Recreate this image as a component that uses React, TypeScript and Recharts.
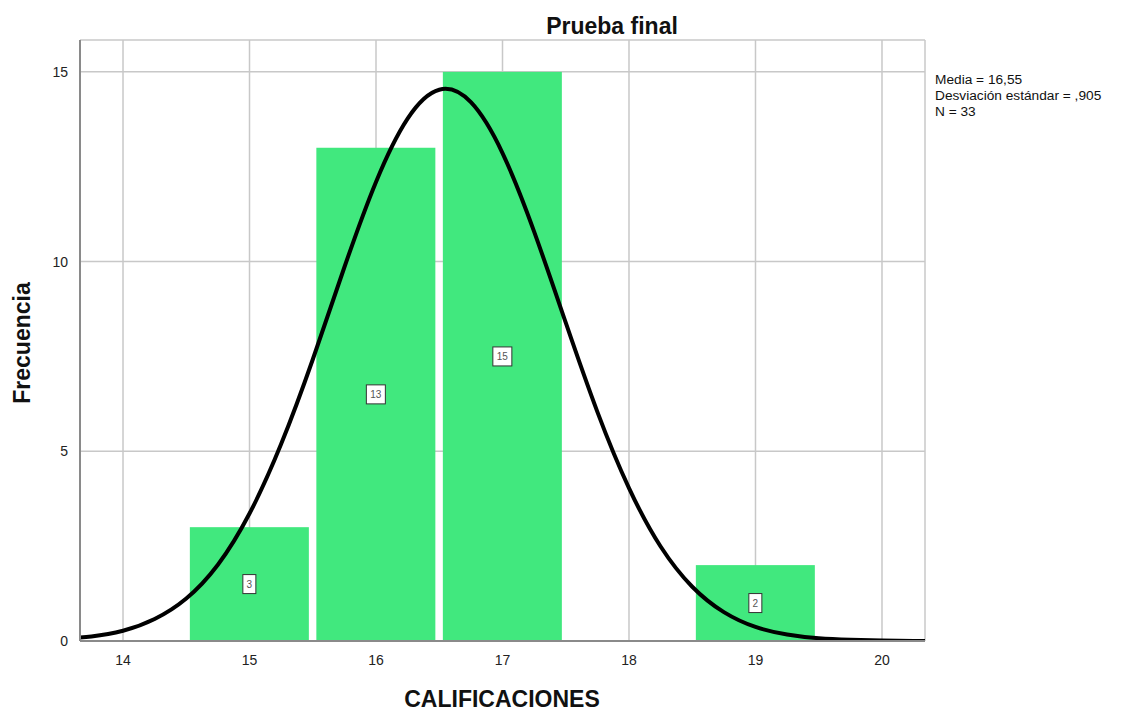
import React from 'react';
import {
  ComposedChart, Bar, Line, XAxis, YAxis, CartesianGrid, LabelList,
} from 'recharts';

// Histogram bins (score) and frequencies
const binCenters = [15, 16, 17, 18, 19];
const frequencies = [3, 13, 15, 0, 2];

// Normal curve (x, expected frequency)
const curveX = [13.5, 13.75, 14, 14.25, 14.5, 14.75, 15, 15.25, 15.5, 15.75, 16, 16.25, 16.5, 16.75, 17, 17.25, 17.5, 17.75, 18, 18.25, 18.5, 18.75, 19, 19.25, 19.5, 19.75, 20, 20.25, 20.5];
const curveY = [0.05, 0.12, 0.27, 0.58, 1.12, 2.01, 3.36, 5.19, 7.42, 9.85, 12.1, 13.77, 14.53, 14.2, 12.86, 10.79, 8.39, 6.04, 4.03, 2.49, 1.43, 0.76, 0.37, 0.17, 0.07, 0.03, 0.01, 0.003, 0.001];

const xTicks = [14, 15, 16, 17, 18, 19, 20];
const yTicks = [0, 5, 10, 15];
const xDomain = [13.66, 20.34];
const yDomain = [0, 15.84];

const title = 'Prueba final';
const xLabel = 'CALIFICACIONES';
const yLabel = 'Frecuencia';
const statsLines = ['Media = 16,55', 'Desviación estándar = ,905', 'N = 33'];

const data = curveX.map((x, i) => {
  const bi = binCenters.indexOf(x);
  return { x, curve: curveY[i], freq: bi >= 0 && frequencies[bi] > 0 ? frequencies[bi] : undefined };
});

const FONT = '"Liberation Sans", Arial, sans-serif';
const BAR_W = 119;

const BarShape = (props: any) => {
  const { x, y, width, height } = props;
  if (height == null || height <= 0) return null;
  const cx = x + width / 2;
  return <rect x={cx - BAR_W / 2} y={y} width={BAR_W} height={height} fill="#41e87e" />;
};

const BoxLabel = (props: any) => {
  const { x, y, width, height, value } = props;
  if (value == null || value <= 0) return null;
  const cx = x + width / 2;
  const cy = y + height / 2;
  const s = String(value);
  const w = s.length * 6 + 7;
  const h = 19;
  return (
    <g>
      <rect x={cx - w / 2} y={cy - h / 2} width={w} height={h} fill="#ffffff" stroke="#333" strokeWidth={1} />
      <text x={cx} y={cy + 4} textAnchor="middle" fontSize={10} fontFamily={FONT} fill="#555">{s}</text>
    </g>
  );
};

export default function App() {
  return (
    <div style={{ position: 'absolute', left: 0, top: 0, width: 1148, height: 711, background: '#fff', fontFamily: FONT }}>
      <ComposedChart
        width={1148}
        height={711}
        data={data}
        margin={{ top: 40, right: 223, bottom: 40, left: 0 }}
      >
        <CartesianGrid stroke="#c8c8c8" strokeWidth={1.5} />
        <XAxis
          dataKey="x"
          type="number"
          domain={xDomain}
          ticks={xTicks}
          allowDataOverflow
          height={30}
          tickLine={false}
          axisLine={{ stroke: '#8a8a8a', strokeWidth: 2 }}
          tick={{ fontSize: 14, fill: '#222', fontFamily: FONT }}
          tickMargin={8}
        />
        <YAxis
          type="number"
          domain={yDomain}
          ticks={yTicks}
          allowDataOverflow
          width={80}
          tickLine={false}
          axisLine={{ stroke: '#8a8a8a', strokeWidth: 2 }}
          tick={{ fontSize: 14, fill: '#222', fontFamily: FONT }}
          tickMargin={6}
        />
        <Bar dataKey="freq" shape={<BarShape />} isAnimationActive={false}>
          <LabelList dataKey="freq" content={<BoxLabel />} />
        </Bar>
        <Line
          dataKey="curve"
          type="natural"
          stroke="#000"
          strokeWidth={4}
          dot={false}
          activeDot={false}
          isAnimationActive={false}
        />
        <text x={612} y={34} textAnchor="middle" fontSize={23} fontWeight="bold" fontFamily={FONT} fill="#111">{title}</text>
        <text x={502} y={707} textAnchor="middle" fontSize={23} fontWeight="bold" fontFamily={FONT} fill="#111">{xLabel}</text>
        <text x={30} y={343} textAnchor="middle" fontSize={23} fontWeight="bold" fontFamily={FONT} fill="#111" transform="rotate(-90 30 343)">{yLabel}</text>
        {statsLines.map((s, i) => (
          <text key={s} x={935} y={84 + i * 16} fontSize={13.7} fontFamily={FONT} fill="#111">{s}</text>
        ))}
      </ComposedChart>
    </div>
  );
}
